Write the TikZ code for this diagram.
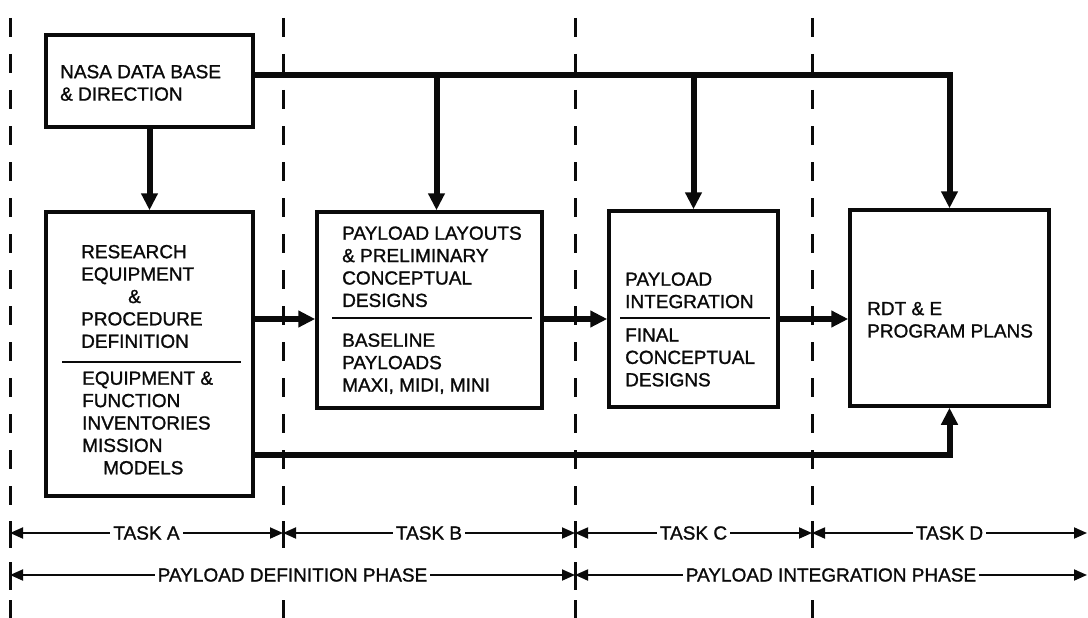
\documentclass[tikz,border=0pt]{standalone}
\usepackage{fontspec}
\setmainfont{Liberation Sans}[FakeBold=1.2]
\usepackage{tikz}
\usetikzlibrary{arrows.meta,positioning}
\definecolor{inkBlack}{HTML}{0A0A0A}
\tikzset{
  box/.style={rectangle,draw=inkBlack,line width=3.5pt,fill=white,inner sep=0pt},
  boxtext/.style={anchor=north west,inner sep=0pt,align=left,text=inkBlack,
    font=\fontsize{19}{22.4}\selectfont},
  flow/.style={-{Triangle[length=17pt,width=16pt]},line width=6pt,draw=inkBlack},
  divider/.style={line width=2pt,draw=inkBlack},
  boundary/.style={draw=inkBlack,line width=3pt,dash pattern=on 19pt off 17pt},
  tick/.style={draw=inkBlack,line width=3pt},
  span/.style={{Triangle[length=13pt,width=11pt]}-{Triangle[length=13pt,width=11pt]},
    line width=1.8pt,draw=inkBlack},
  spantext/.style={fill=white,inner xsep=3pt,inner ysep=1pt,text=inkBlack,
    font=\fontsize{19}{22}\selectfont}
}

\begin{document}
\begin{tikzpicture}[x=1pt,y=-1pt]
\useasboundingbox[fill=white] (0,0) rectangle (1088,618);

\foreach \x in {10,283,575,812}{
  \draw[boundary] (\x,18) -- (\x,512);
  \draw[tick] (\x,521) -- (\x,548);
  \draw[tick] (\x,600) -- (\x,618);
}
\foreach \x in {10,575}
  \draw[tick] (\x,562) -- (\x,590);

\node[box,minimum width=207pt,minimum height=92pt] (nasa) at (149.5,81) {};
\node[box,minimum width=207pt,minimum height=284pt] (research) at (149.5,354) {};
\node[box,minimum width=225pt,minimum height=196pt] (layouts) at (429.5,310) {};
\node[box,minimum width=169pt,minimum height=196pt] (integ) at (693.5,309) {};
\node[box,minimum width=199pt,minimum height=196pt] (rdte) at (949.5,308) {};

\node[boxtext] (nasatxt) at ([shift={(15.75,31.5)}]nasa.north west)
  {NASA DATA BASE\\\& DIRECTION};
\node[boxtext] (resup) at ([shift={(36.75,34.5)}]research.north west)
  {RESEARCH\\EQUIPMENT\\\hspace*{47pt}\&\\PROCEDURE\\DEFINITION};
\node[boxtext] (reslow) at ([shift={(37.75,161)}]research.north west)
  {EQUIPMENT \&\\FUNCTION\\INVENTORIES\\MISSION\\\hspace*{21pt}MODELS};
\node[boxtext] (layup) at ([shift={(26.75,16)}]layouts.north west)
  {PAYLOAD LAYOUTS\\\& PRELIMINARY\\CONCEPTUAL\\DESIGNS};
\node[boxtext] (laylow) at ([shift={(26.75,123)}]layouts.north west)
  {BASELINE\\PAYLOADS\\MAXI, MIDI, MINI};
\node[boxtext] (intup) at ([shift={(17.75,63)}]integ.north west)
  {PAYLOAD\\INTEGRATION};
\node[boxtext] (intlow) at ([shift={(17.75,119)}]integ.north west)
  {FINAL\\CONCEPTUAL\\DESIGNS};
\node[boxtext] (rdtetxt) at ([shift={(18.75,93.5)}]rdte.north west)
  {RDT \& E\\PROGRAM PLANS};

\draw[divider] ([shift={(17.75,151.75)}]research.north west) -- ++(179,0);
\draw[divider] ([shift={(16.75,107.75)}]layouts.north west) -- ++(200,0);
\draw[divider] ([shift={(12.75,108.75)}]integ.north west) -- ++(150,0);

\coordinate (bus) at ([yshift=6pt]nasa.east);
\coordinate (layin) at ([xshift=7pt]layouts.north);
\coordinate (inB) at ([yshift=-9pt]layouts.west);
\draw[flow] (nasa) -- (research);
\draw[flow] (bus) -| (rdte.north);
\draw[flow] (bus -| layin) -- (layin);
\draw[flow] (bus -| integ.north) -- (integ.north);
\draw[flow] (research.east |- inB) -- (inB);
\draw[flow] ([yshift=-9pt]layouts.east) -- ([yshift=-10pt]integ.west);
\draw[flow] ([yshift=-10pt]integ.east) -- ([yshift=-11pt]rdte.west);
\draw[flow] ([yshift=-101pt]research.east) -| (rdte.south);

\foreach \n/\x in {a/10,b/283,c/575,d/812,e/1087}{
  \coordinate (task\n) at (\x,533);
  \coordinate (phase\n) at (\x,575);
}
\draw[span] (taska) -- node[spantext] (lblA) {TASK A} (taskb);
\draw[span] (taskb) -- node[spantext] (lblB) {TASK B} (taskc);
\draw[span] (taskc) -- node[spantext] (lblC) {TASK C} (taskd);
\draw[span] (taskd) -- node[spantext] (lblD) {TASK D} (taske);
\draw[span] (phasea) -- node[spantext] (lblDef) {PAYLOAD DEFINITION PHASE} (phasec);
\draw[span] (phasec) -- node[spantext] (lblInt) {PAYLOAD INTEGRATION PHASE} (phasee);
\end{tikzpicture}
\end{document}
